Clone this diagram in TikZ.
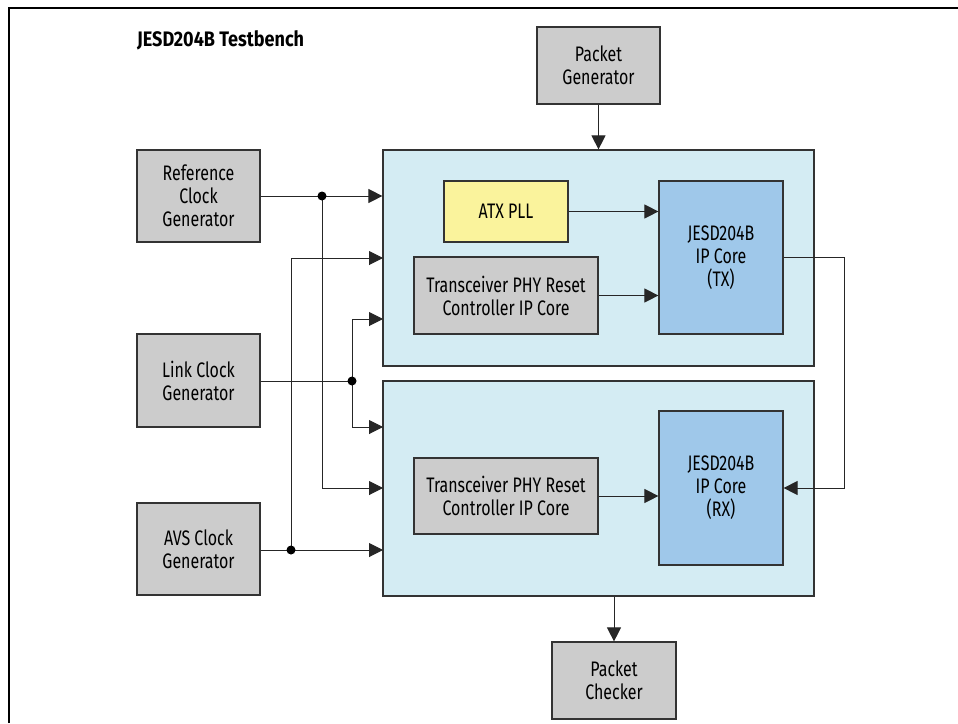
\documentclass[tikz,border=0pt]{standalone}
\usepackage{fontspec}
\setmainfont[FakeStretch=0.76]{Fira Sans}
\newfontfamily\titlefont[FakeStretch=0.86]{Fira Sans}
\usetikzlibrary{arrows.meta,positioning}
\definecolor{boxgray}{HTML}{CCCCCC}
\definecolor{boxblue}{HTML}{D4ECF3}
\definecolor{coreblue}{HTML}{9FC8EA}
\definecolor{pllyellow}{HTML}{FAF39C}
\tikzset{
  blk/.style={draw=black!80, line width=1.2pt, align=center, inner sep=0pt,
    font=\fontsize{21}{23}\selectfont},
  genbox/.style={blk, fill=boxgray, minimum width=123pt, minimum height=92pt},
  wire/.style={draw=black!85, line width=1pt},
  tip/.style={-{Triangle[length=14pt,width=14pt]}},
  joint/.style={circle, fill=black, inner sep=0pt, minimum size=9pt},
}
\begin{document}
\begin{tikzpicture}[x=1pt,y=-1pt]
	\useasboundingbox (0,0) rectangle (958,723);
	\draw[line width=2pt] (9,723) -- (9,8) -- (958,8);
	\node[anchor=west, inner sep=0pt, font=\fontsize{21}{23}\titlefont\bfseries] (title) at (137,40) {JESD204B Testbench};
	
	% clock generators
	\node[genbox] (refgen) at (198.5,196) {Reference\\Clock\\Generator};
	\node[genbox, minimum height=93pt] (linkgen) at (198.5,380.5) {Link Clock\\Generator};
	\node[genbox] (avsgen) at (198.5,549) {AVS Clock\\Generator};
	
	% packet boxes
	\node[genbox, minimum height=77pt] (pktgen) at (598.5,65.5) {Packet\\Generator};
	\node[genbox, minimum width=124pt, minimum height=77pt] (pktchk) at (614,680.5) {Packet\\Checker};
	
	% TX side
	\node[blk, fill=boxblue, minimum width=431pt, minimum height=216pt] (txbox) at (598.5,258) {};
	\node[blk, fill=pllyellow, minimum width=124pt, minimum height=61pt] (atx) at (506,211.5) {ATX PLL};
	\node[blk, fill=boxgray, minimum width=184pt, minimum height=77pt] (txrst) at (506,295.5) {Transceiver PHY Reset\\Controller IP Core};
	\node[blk, fill=coreblue, minimum width=124pt, minimum height=153pt] (txcore) at (721,257.5) {JESD204B\\IP Core\\(TX)};
	
	% RX side
	\node[blk, fill=boxblue, minimum width=431pt, minimum height=215pt] (rxbox) at (598.5,488.5) {};
	\node[blk, fill=boxgray, minimum width=184pt, minimum height=76pt] (rxrst) at (506,496) {Transceiver PHY Reset\\Controller IP Core};
	\node[blk, fill=coreblue, minimum width=124pt, minimum height=154pt] (rxcore) at (721,488) {JESD204B\\IP Core\\(RX)};
	
	% branch points and wire ends
	\coordinate (refdot) at (322,196);
	\coordinate (linkdot) at (352,381);
	\coordinate (avsdot) at (291,550);
	\coordinate (txavs) at (383,258);
	\coordinate (txlink) at (383,319);
	\coordinate (rxlink) at (383,427);
	\coordinate (rxref) at (383,488);
	\coordinate (rxavs) at (383,550);
	\coordinate (loopr) at (844,257);
	
	% clocks
	\draw[wire,tip] (refgen.east) -- (refgen.east -| txbox.west);
	\draw[wire,tip] (refdot) |- (rxref);
	\draw[wire] (linkgen.east |- linkdot) -- (linkdot);
	\draw[wire,tip] (linkdot) |- (txlink);
	\draw[wire,tip] (linkdot) |- (rxlink);
	\draw[wire,tip] (avsgen.east |- avsdot) -- (rxavs);
	\draw[wire,tip] (avsdot) |- (txavs);
	\node[joint] at (refdot) {};
	\node[joint] at (linkdot) {};
	\node[joint] at (avsdot) {};
	
	% inside
	\draw[wire,tip] (atx.east) -- (atx.east -| txcore.west);
	\draw[wire,tip] (txrst.east) -- (txrst.east -| txcore.west);
	\draw[wire,tip] (rxrst.east) -- (rxrst.east -| rxcore.west);
	\draw[wire,tip] (txcore.east |- loopr) -- (loopr) |- (rxcore.east);
	
	% packets
	\draw[wire,tip] (pktgen.south) -- (pktgen.south |- txbox.north);
	\draw[wire,tip] (rxbox.south -| pktchk.north) -- (pktchk.north);
\end{tikzpicture}
\end{document}
